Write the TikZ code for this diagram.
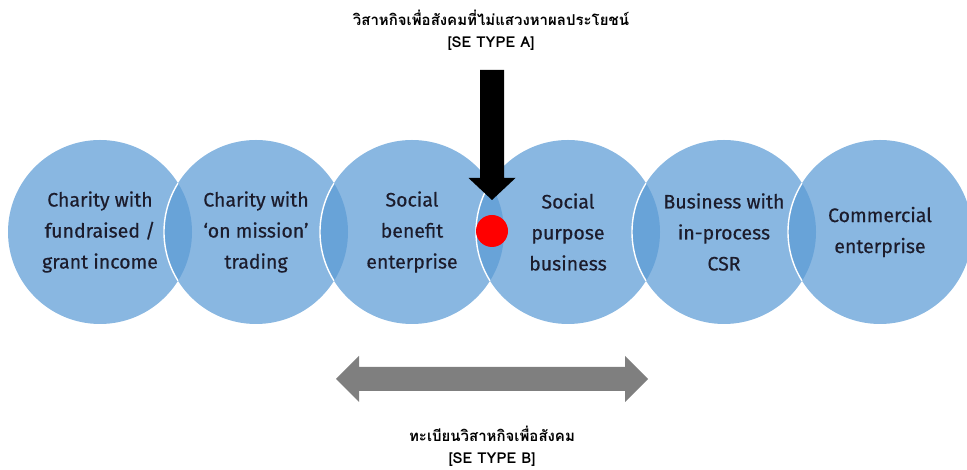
\documentclass[tikz,border=0pt]{standalone}
\usepackage{fontspec}
\setmainfont{Fira Sans}
\newfontfamily\stagefont{Fira Sans}[FakeBold=0.45]
\newfontfamily\thaifont[Script=Thai]{Loma}
\usetikzlibrary{positioning}
\definecolor{seblue}{RGB}{91,155,213}
\definecolor{setext}{RGB}{28,28,44}
\definecolor{segray}{RGB}{127,127,127}

\begin{document}
\begin{tikzpicture}[x=1pt,y=1pt,stage/.style={circle, minimum size=184pt, inner sep=0pt, outer sep=0pt, fill=seblue, fill opacity=0.72, text opacity=1, text=setext, align=center, font=\stagefont\fontsize{19.5}{31}\selectfont},lensline/.style={draw=white, line width=1.4pt},caption/.style={font=\thaifont\bfseries\fontsize{15}{20}\selectfont, text=black}]
\useasboundingbox (0,0) rectangle (967,470);
\node[stage] (circ1) at (100,238) {Charity with\\fundraised /\\grant income};
\node[stage, right=-28pt of circ1] (circ2) {Charity with\\‘on mission’\\trading};
\node[stage, right=-28pt of circ2] (circ3) {Social\\benefit\\enterprise};
\node[stage, right=-28pt of circ3] (circ4) {Social\\purpose\\business};
\node[stage, right=-28pt of circ4] (circ5) {Business with\\in-process\\CSR};
\node[stage, right=-28pt of circ5] (circ6) {Commercial\\enterprise};
% white edges inside the overlaps
\draw[lensline] (circ2.148) arc[start angle=148, end angle=212, radius=92pt];
\draw[lensline] (circ3.148) arc[start angle=148, end angle=212, radius=92pt];
\draw[lensline] (circ4.148) arc[start angle=148, end angle=212, radius=92pt];
\draw[lensline] (circ5.148) arc[start angle=148, end angle=212, radius=92pt];
\draw[lensline] (circ6.148) arc[start angle=148, end angle=212, radius=92pt];
% type A
\node[caption] (titleA) at (491,452) {วิสาหกิจเพื่อสังคมที่ไม่แสวงหาผลประโยชน์};
\node[caption, below=4pt of titleA] (typeA) {[SE TYPE A]};
\fill[black] (480,400) -- (504,400) -- (504,292) -- (515.5,292) -- (492,270) -- (468.5,292) -- (480,292) -- cycle;
\node[circle, fill=red, minimum size=32pt, inner sep=0pt] (dot) at (492,239) {};
% type B
\fill[segray] (336,91) -- (359,114) -- (359,103) -- (625,103) -- (625,114) -- (648,91) -- (625,68) -- (625,79) -- (359,79) -- (359,68) -- cycle;
\node[caption] (titleB) at (492,36) {ทะเบียนวิสาหกิจเพื่อสังคม};
\node[caption, below=4pt of titleB] (typeB) {[SE TYPE B]};
\end{tikzpicture}
\end{document}
